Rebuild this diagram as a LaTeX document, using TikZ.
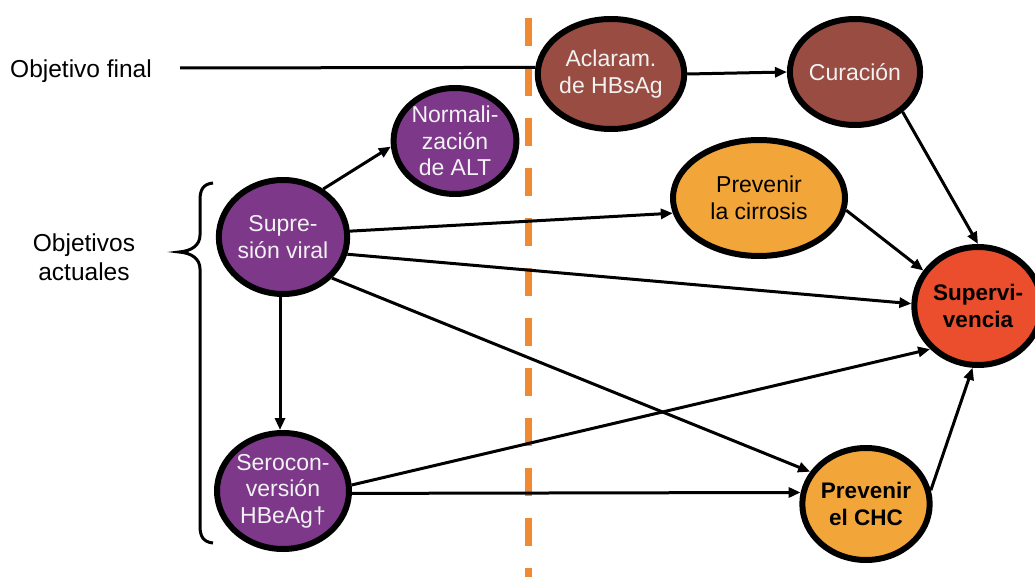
\documentclass[tikz,border=0pt]{standalone}
\usepackage{fontspec}
\setmainfont{Liberation Sans}
\usetikzlibrary{arrows.meta,shapes.geometric}
\definecolor{purp}{RGB}{125,56,138}
\definecolor{brn}{RGB}{152,76,66}
\definecolor{orng}{RGB}{242,166,58}
\definecolor{rd}{RGB}{234,78,45}
\definecolor{dashor}{RGB}{240,138,50}
\definecolor{txtw}{RGB}{242,242,242}
\begin{document}
\begin{tikzpicture}[x=1pt,y=-1pt,
  goal/.style={ellipse, draw=black, line width=6pt, inner sep=0pt, align=center,
    font=\fontsize{23}{26.5}\selectfont},
  purpgoal/.style={goal, fill=purp, text=txtw},
  browngoal/.style={goal, fill=brn, text=txtw},
  orangegoal/.style={goal, fill=orng, text=black},
  conn/.style={line width=3pt, draw=black, -{Triangle[length=12pt,width=10pt]}},
  label/.style={inner sep=0pt, align=center, font=\fontsize{24.5}{29}\selectfont},
]
\useasboundingbox (0,0) rectangle (1035,577);
\fill[white] (0,0) rectangle (1035,577);
% divider
\draw[dashor, line width=7pt, dash pattern=on 28pt off 22pt] (528,18) -- (528,577);
% labels
\node[label, anchor=base west] (of) at (10,78) {Objetivo final};
\node[label] (oa) at (84,257) {Objetivos\\actuales};
\coordinate (ofl) at (180,68);
% brace
\draw[line width=3pt] (213,183) .. controls (203,184) and (200,190) .. (200,200) -- (200,235)
  .. controls (200,245) and (192,251) .. (179,252)
  .. controls (192,253) and (200,259) .. (200,269) -- (200,526)
  .. controls (200,536) and (203,542) .. (213,543);
% nodes
\node[purpgoal, minimum width=118pt, minimum height=114pt] (supr) at (283,237) {Supre-\\sión viral};
\node[purpgoal, minimum width=118pt, minimum height=106pt] (norm) at (455,141) {Normali-\\zación\\de ALT};
\node[purpgoal, minimum width=112pt, minimum height=116pt] (sero) at (283,491) {Serocon-\\versión\\HBeAg†};
\node[browngoal, minimum width=126pt, minimum height=110pt] (acl) at (611,74) {Aclaram.\\de HBsAg};
\node[browngoal, minimum width=114pt, minimum height=106pt] (cur) at (855,72) {Curación};
\node[orangegoal, minimum width=172pt, minimum height=116pt] (cirr) at (759,198) {Prevenir\\la cirrosis};
\node[orangegoal, minimum width=116pt, minimum height=112pt, font=\fontsize{22.5}{26.5}\selectfont\bfseries] (chc) at (866,504) {Prevenir\\el CHC};
\node[goal, fill=rd, minimum width=106pt, minimum height=118pt, font=\fontsize{22.5}{26.5}\selectfont\bfseries] (surv) at (978,306) {Supervi-\\vencia};
% connectors
\draw[line width=3pt] (ofl) -- (acl.175);
\draw[conn] (acl.east) -- (cur.west);
\draw[conn] (supr.50) -- (norm.185);
\draw[conn] (supr.5) -- (cirr.190);
\draw[conn] (supr.-15) -- (surv.178);
\draw[conn] (supr.-40) -- (chc.150);
\draw[conn] ([xshift=-3pt]supr.south) -- ([xshift=-3pt]sero.north);
\draw[conn] (sero.5) -- (surv.222);
\draw[conn] (sero.-2) -- (chc.170);
\draw[conn] (cur.-40) -- (surv.90);
\draw[conn] (cirr.-8) -- (surv.147);
\draw[conn] (chc.12) -- (surv.-95);
\end{tikzpicture}
\end{document}
